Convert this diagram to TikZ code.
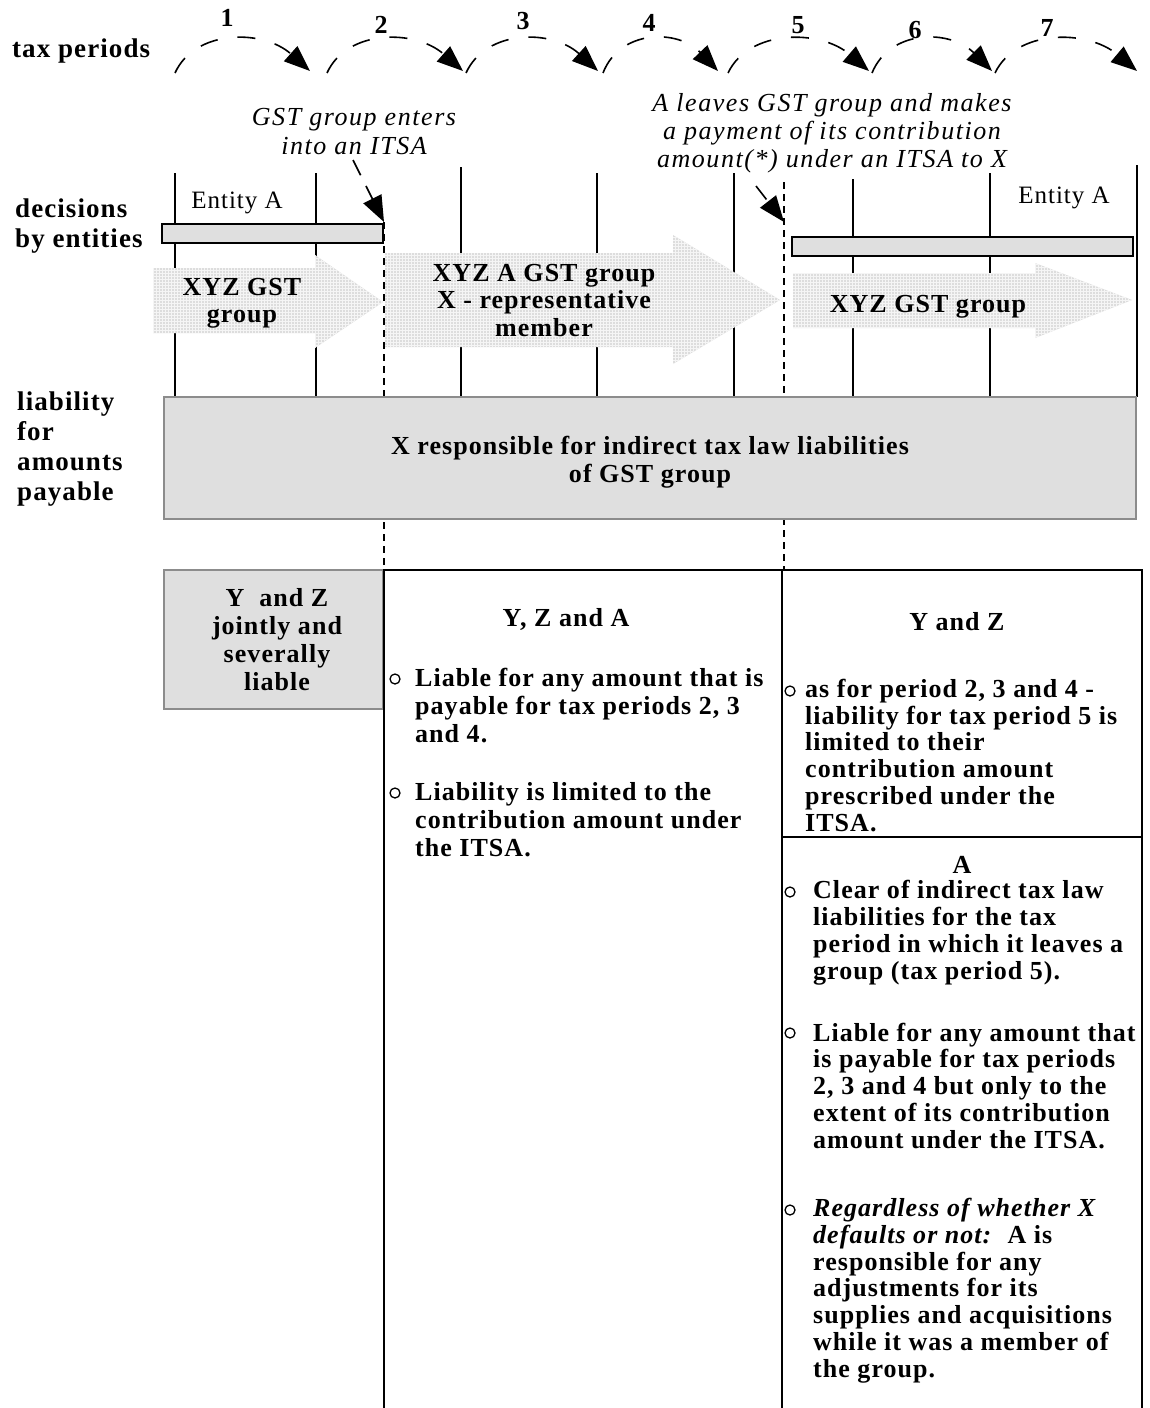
\documentclass[tikz,border=0pt]{standalone}
\usepackage{fontspec}
\setmainfont{Liberation Serif}[LetterSpace=4]
\newfontfamily\notefont{Liberation Serif}[LetterSpace=6]
\usetikzlibrary{arrows.meta}
\definecolor{boxfill}{gray}{0.875}
\definecolor{boxline}{gray}{0.55}
\begin{document}
\begin{tikzpicture}[x=1pt,y=-1pt,
  lab/.style={font=\fontsize{27}{29.7}\selectfont\bfseries, align=left, anchor=base west, inner sep=0pt},
  num/.style={font=\fontsize{26}{27}\selectfont\bfseries, anchor=base, inner sep=0pt},
  bodyr/.style={font=\fontsize{26}{26.7}\selectfont\bfseries, align=left, anchor=base west, inner sep=0pt},
  bodym/.style={font=\fontsize{26}{28}\selectfont\bfseries, align=left, anchor=base west, inner sep=0pt},
  ctr/.style={font=\fontsize{26}{28}\selectfont\bfseries, align=center, anchor=base, inner sep=0pt},
  arrtxt/.style={font=\fontsize{26}{27.5}\selectfont\bfseries, align=center, anchor=base, inner sep=0pt},
  note/.style={font=\notefont\fontsize{26}{28.3}\selectfont\itshape, align=center, anchor=base, inner sep=0pt},
  ent/.style={font=\fontsize{25}{27}\selectfont, anchor=base, inner sep=0pt},
  bul/.style={circle, draw, line width=1.3pt, minimum size=10pt, inner sep=0pt},
  period/.style={line width=1.4pt},
  dashv/.style={line width=1.5pt, dash pattern=on 7pt off 5pt},
  arcarrow/.style={line width=1.6pt, dash pattern=on 18pt off 20pt, -{Triangle[length=26pt,width=20pt]}},
  notearrow/.style={line width=1.6pt, dash pattern=on 17pt off 12pt, -{Triangle[length=26pt,width=20pt]}},
  entbar/.style={draw=black, line width=1.5pt, fill=boxfill},
  bigarrow/.style={fill=gray!27, path picture={\draw[white!92!gray, line width=0.7pt, step=3pt] (path picture bounding box.south west) grid (path picture bounding box.north east);}},
  frame/.style={line width=1.8pt},
]
\useasboundingbox (0,0) rectangle (1149,1408);

% period boundary lines
\draw[period] (175,173) -- (175,397);
\draw[period] (316,173) -- (316,397);
\draw[period] (461,167) -- (461,397);
\draw[period] (597,173) -- (597,397);
\draw[period] (734,173) -- (734,397);
\draw[period] (853,179) -- (853,397);
\draw[period] (990,173) -- (990,397);
\draw[period] (1137,165) -- (1137,397);

% dashed event lines
\coordinate (ev1) at (384,222);
\coordinate (ev2) at (784,222);
\draw[dashv] (384,222) -- (384,570);
\draw[dashv] (784,182) -- (784,570);

% big group arrows
\path[bigarrow] (153,268) -- (315,268) -- (315,255) -- (383,302) -- (315,348) -- (315,333) -- (153,333) -- cycle;
\path[bigarrow] (385,253) -- (673,253) -- (673,235) -- (780,300) -- (673,364) -- (673,347) -- (385,347) -- cycle;
\path[bigarrow] (793,273) -- (1035,273) -- (1035,263) -- (1132,300) -- (1035,338) -- (1035,328) -- (793,328) -- cycle;

% (multi-line nodes: base anchor = baseline of the last line)
\node[arrtxt] (g1) at (242,322.5) {XYZ GST\\group};
\node[arrtxt] (g2) at (544,336) {XYZ A GST group\\X - representative\\member};
\node[arrtxt] (g3) at (928,312) {XYZ GST group};

% entity A bars
\draw[entbar] (162,224) rectangle (383,243);
\draw[entbar] (792,237) rectangle (1133,256);
\node[ent] (ea1) at (237,208) {Entity A};
\node[ent] (ea2) at (1064,203) {Entity A};

% liability box
\draw[fill=boxfill, draw=boxline, line width=2pt] (164,397) rectangle (1136,519);
\node[ctr] (xresp) at (650,482) {X responsible for indirect tax law liabilities\\of GST group};

% lower boxes
\draw[fill=boxfill, draw=boxline, line width=1.8pt] (164,570) rectangle (383,709);
\node[ctr] (yz1) at (277,690) {Y\ \ and Z\\jointly and\\severally\\liable};
\draw[frame] (384,1408) -- (384,570) -- (1142,570) -- (1142,1408);
\draw[frame] (782,570) -- (782,1408);
\draw[frame] (782,837) -- (1142,837);

% middle column
\node[ctr] (yza) at (566,626) {Y, Z and A};
\node[bul] (m1) at (395,679) {};
\node[bodym] (m1t) at (415,742) {Liable for any amount that is\\payable for tax periods 2, 3\\and 4.};
\node[bul] (m2) at (395,793) {};
\node[bodym] (m2t) at (415,856) {Liability is limited to the\\contribution amount under\\the ITSA.};

% right top column
\node[ctr] (yz2) at (957,630) {Y and Z};
\node[bul] (r1) at (790,691) {};
\node[bodyr] (r1t) at (805,831) {as for period 2, 3 and 4 -\\liability for tax period 5 is\\limited to their\\contribution amount\\prescribed under the\\ITSA.};

% A column
\node[ctr] (acol) at (962,873) {A};
\node[bul] (a1) at (790,892) {};
\node[bodyr] (a1t) at (813,979) {Clear of indirect tax law\\liabilities for the tax\\period in which it leaves a\\group (tax period 5).};
\node[bul] (a2) at (790,1033) {};
\node[bodyr] (a2t) at (813,1148) {Liable for any amount that\\is payable for tax periods\\2, 3 and 4 but only to the\\extent of its contribution\\amount under the ITSA.};
\node[bul] (a3) at (790,1210) {};
\node[bodyr] (a3t) at (813,1377) {\textit{Regardless of whether X}\\\textit{defaults or not:}\ \ A is\\responsible for any\\adjustments for its\\supplies and acquisitions\\while it was a member of\\the group.};

% left labels
\node[lab] (taxp) at (12,57) {tax periods};
\node[lab] (dec) at (15,247) {decisions\\by entities};
\node[lab] (liab) at (17,500) {liability\\for\\amounts\\payable};

% period numbers
\node[num] (n1) at (227,27) {1};
\node[num] (n2) at (381,33) {2};
\node[num] (n3) at (523,29) {3};
\node[num] (n4) at (649,31) {4};
\node[num] (n5) at (798,33) {5};
\node[num] (n6) at (915,38) {6};
\node[num] (n7) at (1047,36) {7};

% period arcs
\coordinate (s1) at (175,73); \coordinate (e1) at (310,71);
\coordinate (s2) at (327,73); \coordinate (e2) at (463,71);
\coordinate (s3) at (466,73); \coordinate (e3) at (598,71);
\coordinate (s4) at (603,73); \coordinate (e4) at (718,71);
\coordinate (s5) at (728,73); \coordinate (e5) at (869,71);
\coordinate (s6) at (872,73); \coordinate (e6) at (992,71);
\coordinate (s7) at (995,73); \coordinate (e7) at (1137,71);
\draw[arcarrow] (s1) .. controls +(20,-44) and +(-47,-42) .. (e1);
\draw[arcarrow] (s2) .. controls +(20,-44) and +(-48,-42) .. (e2);
\draw[arcarrow] (s3) .. controls +(20,-44) and +(-46,-42) .. (e3);
\draw[arcarrow] (s4) .. controls +(17,-44) and +(-40,-42) .. (e4);
\draw[arcarrow] (s5) .. controls +(21,-44) and +(-49,-42) .. (e5);
\draw[arcarrow] (s6) .. controls +(18,-44) and +(-42,-42) .. (e6);
\draw[arcarrow] (s7) .. controls +(21,-44) and +(-50,-42) .. (e7);

% event annotations
\node[note] (itsa) at (354,154) {GST group enters\\into an ITSA};
\node[note] (leave) at (832,167.6) {A leaves GST group and makes\\a payment of its contribution\\amount(*) under an ITSA to X};
\coordinate (na1) at (353,160);
\coordinate (na2) at (756,186);
\draw[notearrow] (na1) -- (ev1);
\draw[notearrow] (na2) -- (ev2);
\end{tikzpicture}
\end{document}
